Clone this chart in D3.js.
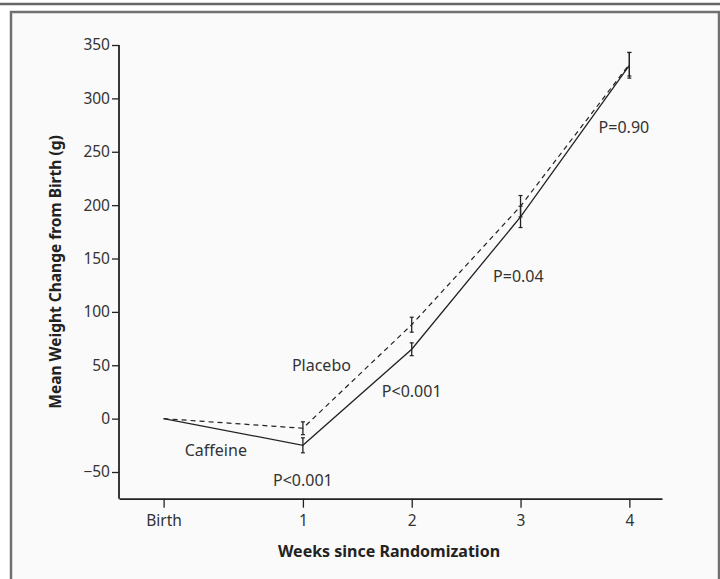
<!DOCTYPE html>
<html>
<head>
<meta charset="utf-8">
<script src="https://cdn.jsdelivr.net/npm/d3@7"></script>
<style>
  html, body { margin: 0; padding: 0; background: #ffffff; }
  svg { display: block; font-family: 'Noto Sans', 'Open Sans', sans-serif; }
</style>
</head>
<body>
<svg width="720" height="579"></svg>
<script>
const svg = d3.select('svg');

const width = +svg.attr('width');
const height = +svg.attr('height');
const font = "'Noto Sans', 'Open Sans', sans-serif";

// weeks since randomization; birth sits a little before week 1
const weeks = [-0.28, 1, 2, 3, 4];
const weekLabels = ['Birth', '1', '2', '3', '4'];

const caffeine = [0, -25, 65, 189, 331];
const caffeineErr = [0, 7, 6, 10, 12];
const placebo = [0, -9, 88, 199, 332];
const placeboErr = [0, 6, 7, 10, 11];

const yTicks = [-50, 0, 50, 100, 150, 200, 250, 300, 350];

// P values at each week, with where the label sits
const pLabels = ['P<0.001', 'P<0.001', 'P=0.04', 'P=0.90'];
const pWeeks = [1, 2, 2.98, 3.95];
const pValuesAt = [-58, 25, 133, 273];

// frame
svg.append('rect')
  .attr('x', 0).attr('y', 0)
  .attr('width', width).attr('height', height)
  .attr('fill', '#ffffff');

svg.append('line')
  .attr('x1', 0).attr('x2', width)
  .attr('y1', 4).attr('y2', 4)
  .attr('stroke', '#666').attr('stroke-width', 2.5);

svg.append('rect')
  .attr('x', 11).attr('y', 12)
  .attr('width', width - 12).attr('height', height - 8)
  .attr('fill', '#fafafa')
  .attr('stroke', '#707070')
  .attr('stroke-width', 2.5);

const margin = { top: 45, right: 58, bottom: 80, left: 119 };
const innerWidth = width - margin.left - margin.right;
const innerHeight = 498.7 - margin.top;

const xScale = d3.scaleLinear()
  .domain([-0.69, 4.30])
  .range([0, innerWidth]);

const yScale = d3.scaleLinear()
  .domain([-75, 350])
  .range([innerHeight, 0]);

const g = svg.append('g')
  .attr('transform', `translate(${margin.left},${margin.top})`);

const yAxis = d3.axisLeft(yScale)
  .tickValues(yTicks)
  .tickFormat(d => d < 0 ? '\u2212' + Math.abs(d) : d)
  .tickSize(7)
  .tickSizeOuter(0)
  .tickPadding(2);

const xAxis = d3.axisBottom(xScale)
  .tickValues(weeks)
  .tickFormat((d, i) => weekLabels[i])
  .tickSize(9)
  .tickSizeOuter(0)
  .tickPadding(7);

const yAxisG = g.append('g').call(yAxis);
yAxisG.select('.domain')
  .attr('d', `M0,${innerHeight}V0`);

const xAxisG = g.append('g')
  .attr('transform', `translate(0,${innerHeight})`)
  .call(xAxis);

[yAxisG, xAxisG].forEach(ax => {
  ax.attr('font-family', font).attr('font-size', 15.5);
  ax.selectAll('.domain').attr('stroke', '#222').attr('stroke-width', 1.8);
  ax.selectAll('.tick line').attr('stroke', '#222').attr('stroke-width', 1.3);
  ax.selectAll('.tick text').attr('fill', '#333');
});

// series lines
const line = d3.line()
  .x((d, i) => xScale(weeks[i]))
  .y(d => yScale(d));

g.append('path')
  .datum(placebo)
  .attr('d', line)
  .attr('fill', 'none')
  .attr('stroke', '#222')
  .attr('stroke-width', 1.2)
  .attr('stroke-dasharray', '5,4');

g.append('path')
  .datum(caffeine)
  .attr('d', line)
  .attr('fill', 'none')
  .attr('stroke', '#222')
  .attr('stroke-width', 1.3);

// error bars
const drawErr = (vals, errs) => {
  const eg = g.append('g');
  vals.forEach((v, i) => {
    if (!errs[i]) return;
    const x = xScale(weeks[i]);
    const y0 = yScale(v - errs[i]);
    const y1 = yScale(v + errs[i]);
    eg.append('line')
      .attr('x1', x).attr('x2', x)
      .attr('y1', y0).attr('y2', y1)
      .attr('stroke', '#222').attr('stroke-width', 1.3);
    [y0, y1].forEach(y => {
      eg.append('line')
        .attr('x1', x - 2).attr('x2', x + 2)
        .attr('y1', y).attr('y2', y)
        .attr('stroke', '#222').attr('stroke-width', 1.2);
    });
  });
};
drawErr(placebo, placeboErr);
drawErr(caffeine, caffeineErr);

// annotations
const annot = (x, y, txt) => g.append('text')
  .attr('x', x).attr('y', y)
  .attr('text-anchor', 'middle')
  .attr('fill', '#333')
  .style('font-family', font)
  .style('font-size', '16px')
  .text(txt);

annot(xScale(1.17), yScale(50) + 5.5, 'Placebo');
annot(xScale(0.2), yScale(-30) + 5.5, 'Caffeine');

pLabels.forEach((p, i) => {
  annot(xScale(pWeeks[i]), yScale(pValuesAt[i]) + 5.5, p);
});

// axis titles
svg.append('text')
  .attr('x', 389)
  .attr('y', 557)
  .attr('text-anchor', 'middle')
  .attr('fill', '#222')
  .style('font-family', font)
  .style('font-size', '16px')
  .style('font-weight', 'bold')
  .text('Weeks since Randomization');

svg.append('text')
  .attr('transform', 'translate(61,272) rotate(-90)')
  .attr('text-anchor', 'middle')
  .attr('fill', '#222')
  .style('font-family', font)
  .style('font-size', '15.5px')
  .style('font-weight', 'bold')
  .text('Mean Weight Change from Birth (g)');
</script>
</body>
</html>
